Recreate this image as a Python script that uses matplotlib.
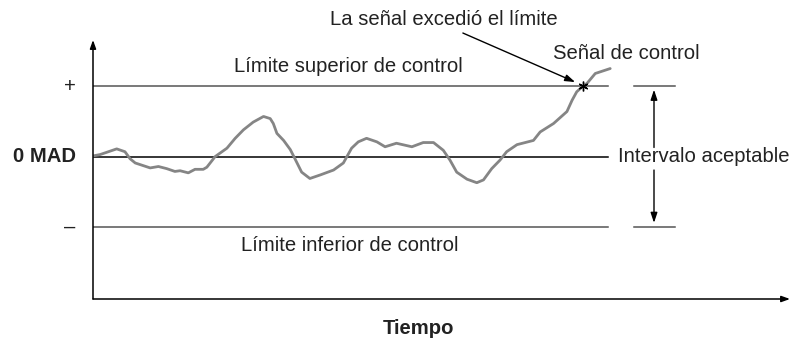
import matplotlib
matplotlib.use("Agg")
import matplotlib.pyplot as plt

## Data: control signal (tracking signal in MAD units over time)
t_signal = [0.0, 1.4, 4.6, 6.2, 7.2, 8.2, 11.1, 12.7, 14.3, 15.9, 16.9, 18.5, 19.8,
            21.4, 22.1, 23.7, 26.0, 27.6, 29.2, 31.1, 33.1, 34.4, 35.0, 35.7, 37.0,
            38.3, 39.2, 40.5, 42.1, 44.1, 46.7, 48.6, 50.2, 51.5, 53.1, 55.1, 56.7,
            58.9, 61.9, 64.1, 66.1, 68.0, 69.3, 70.6, 72.6, 74.5, 75.8, 77.4, 79.0,
            80.3, 82.3, 85.5, 86.8, 89.4, 92.0, 93.0, 93.9, 95.1, 95.9, 97.5, 100.4]
mad_signal = [0.01, 0.03, 0.11, 0.07, -0.03, -0.09, -0.16, -0.14, -0.17, -0.21, -0.20,
              -0.23, -0.18, -0.18, -0.15, 0.00, 0.12, 0.26, 0.38, 0.49, 0.57, 0.54,
              0.47, 0.33, 0.23, 0.10, -0.03, -0.22, -0.31, -0.26, -0.19, -0.09, 0.12,
              0.21, 0.26, 0.21, 0.14, 0.19, 0.14, 0.20, 0.20, 0.09, -0.05, -0.22,
              -0.32, -0.37, -0.33, -0.17, -0.05, 0.07, 0.17, 0.23, 0.35, 0.47, 0.64,
              0.80, 0.92, 1.00, 1.04, 1.18, 1.25]

upper_limit = 1.0
lower_limit = -1.0
t_end = 100.0          # end of the control limit lines
t_exceed = 95.1        # where the signal crosses the upper limit
interval_band = [105.0, 113.0]   # short marks at the right
interval_x = 108.9

plt.rcParams["font.family"] = ["Liberation Sans", "DejaVu Sans"]
fs = 14.6
tc = "#222222"

fig = plt.figure(figsize=(7.9, 3.38), dpi=100)
ax = fig.add_axes([93 / 790, 39 / 338, 697 / 790, 259 / 338])
ax.set_xlim(0, 135.3)
ax.set_ylim(-2.02, 1.655)
ax.axis("off")

## Axes with arrows
axis_arrow = dict(arrowstyle="-|>,head_length=0.5,head_width=0.18", color="black",
                  lw=1.1, shrinkA=0, shrinkB=0)
ax.annotate("", xy=(0, 1), xytext=(0, 0), xycoords="axes fraction", arrowprops=axis_arrow)
ax.annotate("", xy=(1, 0), xytext=(0, 0), xycoords="axes fraction", arrowprops=axis_arrow)

## Control limits
ax.plot([0, t_end], [upper_limit, upper_limit], color="#555555", lw=1.1)
ax.plot([0, t_end], [0, 0], color="black", lw=1.1)
ax.plot([0, t_end], [lower_limit, lower_limit], color="#555555", lw=1.1)
ax.plot(interval_band, [upper_limit, upper_limit], color="#555555", lw=1.1)
ax.plot(interval_band, [lower_limit, lower_limit], color="#555555", lw=1.1)

## Signal
ax.plot(t_signal, mad_signal, color="#858585", lw=2.0, solid_joinstyle="round",
        solid_capstyle="round")
ax.plot([t_exceed], [upper_limit], marker=(6, 2, 0), color="black", ms=7, mew=1.0)

## Acceptable interval arrows
v_arrow = dict(arrowstyle="-|>,head_length=0.6,head_width=0.2", color="black",
               lw=1.0, shrinkA=0, shrinkB=0)
ax.annotate("", xy=(interval_x, 0.95), xytext=(interval_x, 0.13), arrowprops=v_arrow)
ax.annotate("", xy=(interval_x, -0.94), xytext=(interval_x, -0.19), arrowprops=v_arrow)

## Texts
ax.text(101.9, 0, "Intervalo aceptable", fontsize=fs, va="center", ha="left",
        color=tc, clip_on=False)
ax.text(49.5, 1.275, "Límite superior de control", fontsize=fs, ha="center",
        va="center", color=tc)
ax.text(49.9, -1.257, "Límite inferior de control", fontsize=fs, ha="center",
        va="center", color=tc)
ax.text(89.3, 1.47, "Señal de control", fontsize=fs, ha="left", va="center",
        color=tc)
ax.text(68.1, 1.94, "La señal excedió el límite", fontsize=fs, ha="center",
        va="center", color=tc, clip_on=False)
ax.annotate("", xy=(93.6, 1.058), xytext=(71.8, 1.754), annotation_clip=False,
            arrowprops=dict(arrowstyle="-|>,head_length=0.6,head_width=0.2",
                            color="black", lw=1.0, shrinkA=0, shrinkB=0))
ax.text(-3.3, 0, "0 MAD", fontsize=fs, fontweight="bold", ha="right", va="center",
        color=tc, clip_on=False)
ax.text(-4.5, upper_limit, "+", fontsize=fs, ha="center", va="center",
        color=tc, clip_on=False)
ax.text(-4.5, lower_limit, "–", fontsize=fs, ha="center", va="center",
        color=tc, clip_on=False)
ax.text(63.1, -2.44, "Tiempo", fontsize=fs, fontweight="bold", ha="center",
        va="center", color=tc, clip_on=False)

fig.savefig("out.png", dpi=100)
